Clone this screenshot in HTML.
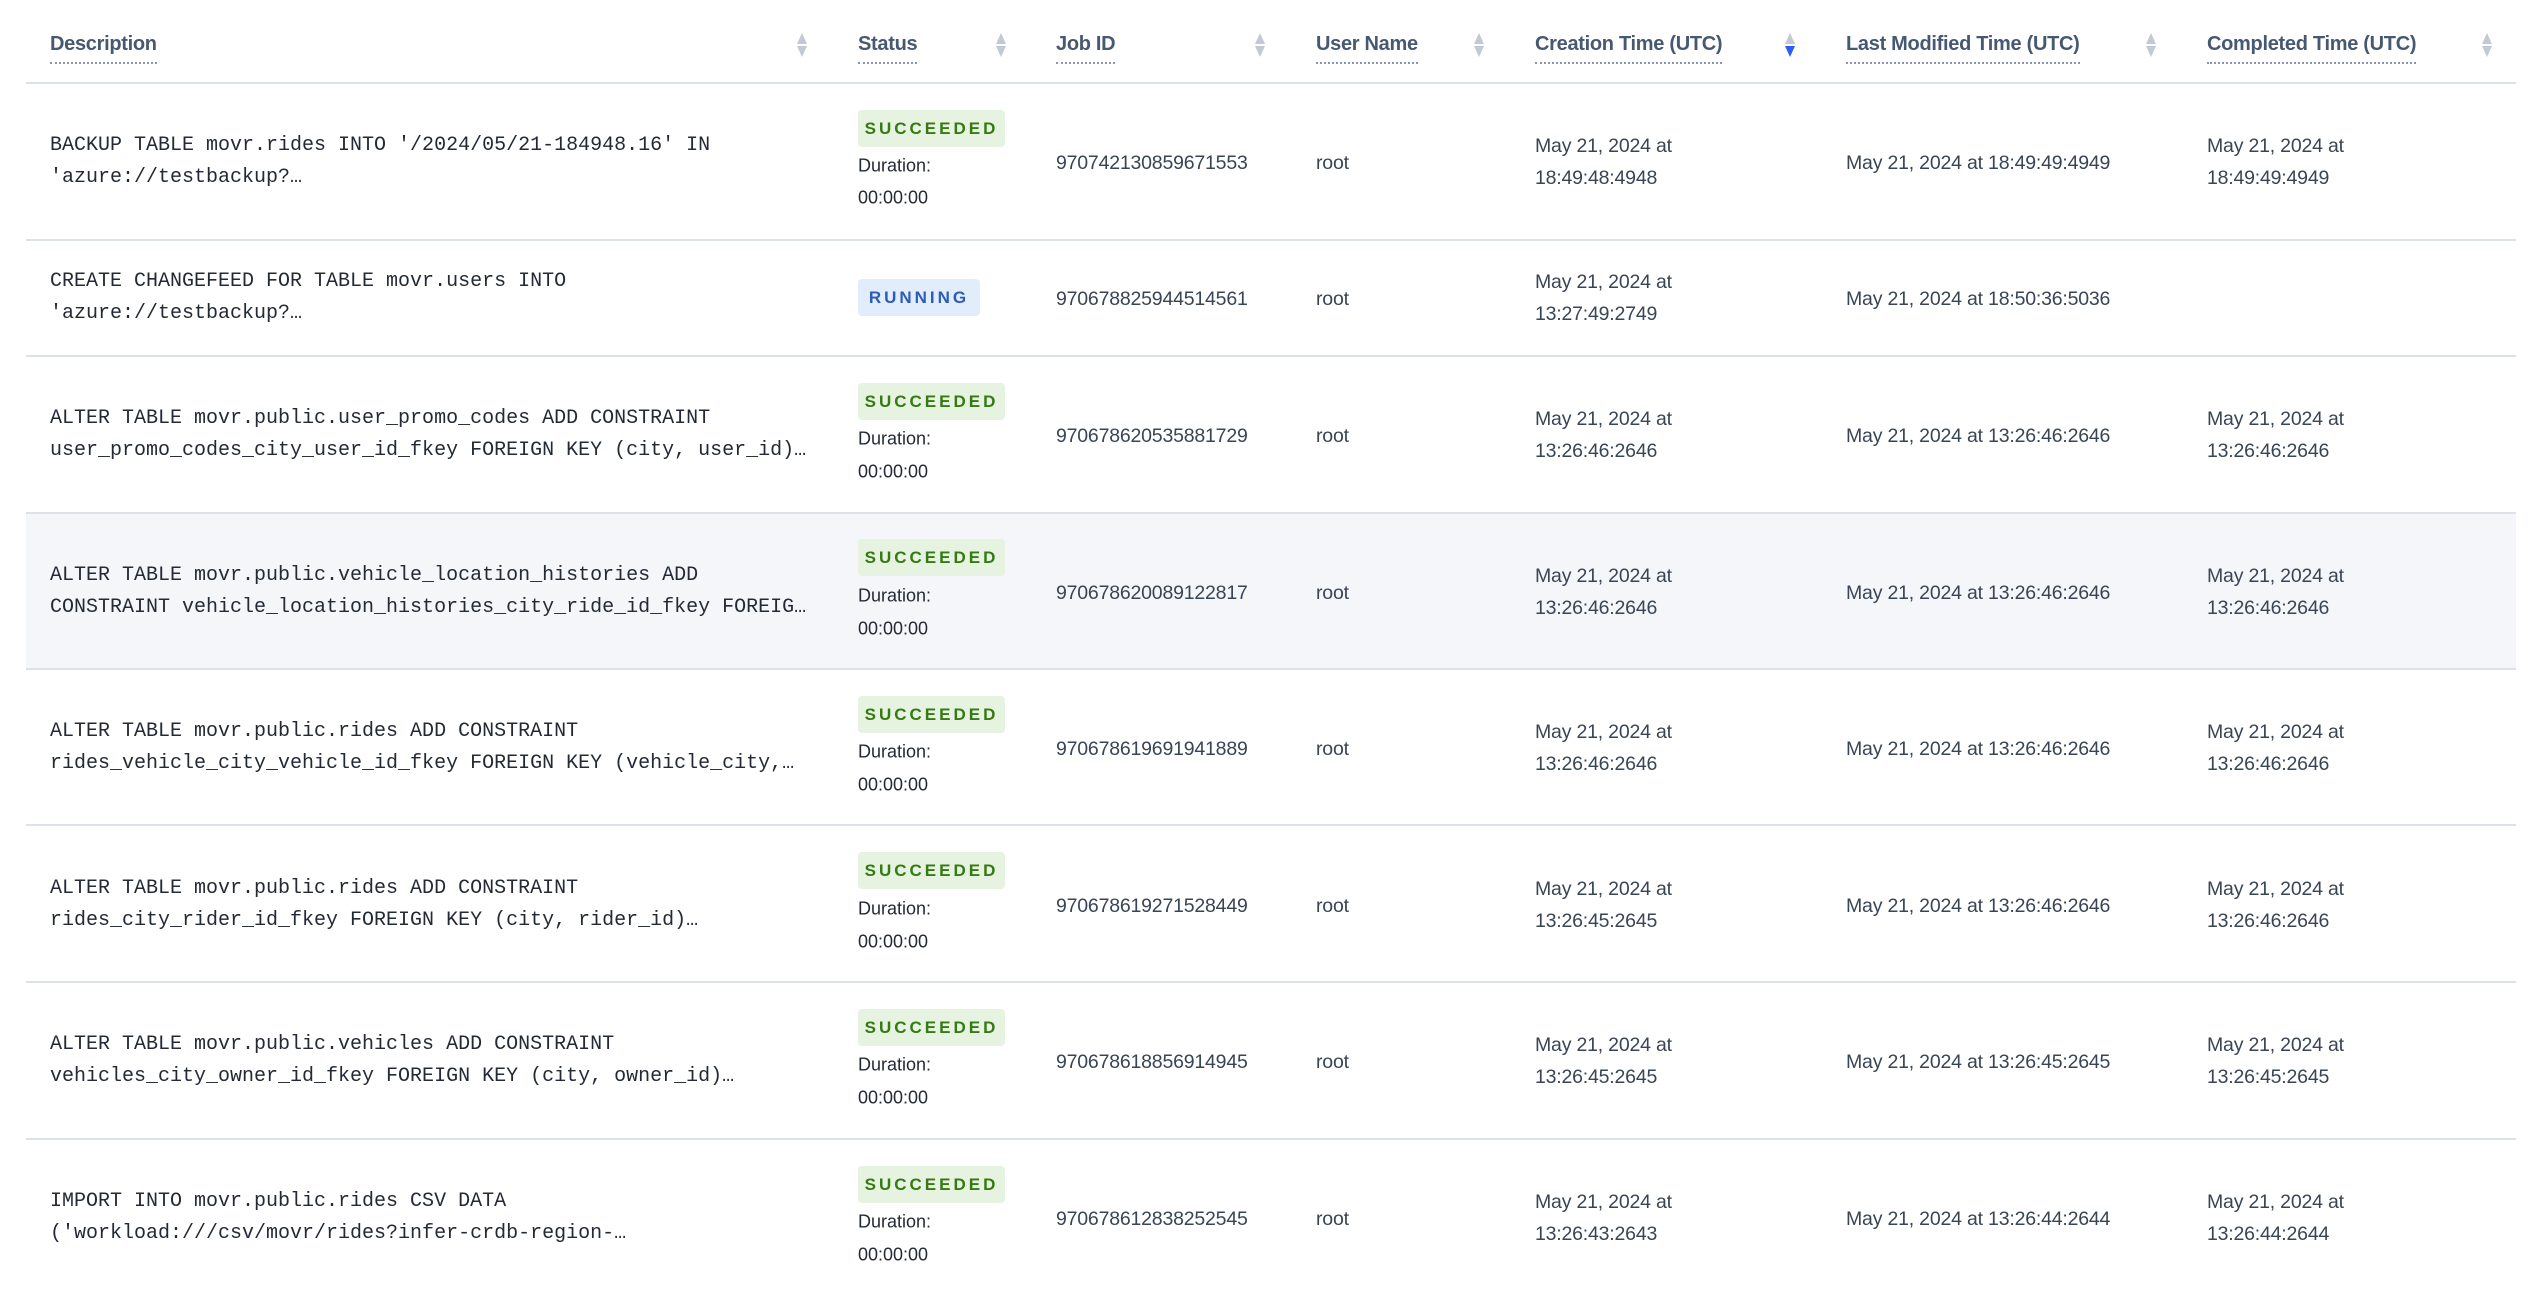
<!DOCTYPE html>
<html><head><meta charset="utf-8"><style>
html,body{margin:0;padding:0;background:#fff;}
body{width:2528px;height:1292px;position:relative;overflow:hidden;font-family:"Liberation Sans",sans-serif;color:#394455;}
.h{position:absolute;top:30px;font-size:20px;font-weight:bold;color:#475872;line-height:28px;border-bottom:2px dotted #8a96b8;padding-bottom:4px;letter-spacing:-0.3px}
.line{position:absolute;left:26px;width:2490px;height:2px;background:#dde1ea}
.row{position:absolute;left:26px;width:2490px}
.c{position:absolute;transform:translateY(-50%);font-size:19.5px;line-height:32px;white-space:nowrap;letter-spacing:-0.2px}
.m{font-family:"Liberation Mono",monospace;font-size:20px;color:#242a35;line-height:32px;letter-spacing:0}
.b{position:absolute;left:858px;height:37px;line-height:37px;border-radius:4px;font-weight:bold;font-size:17px;letter-spacing:3px;text-align:center}
.s{width:147px;background:#e6f3e1;color:#357a13}
.r{width:122px;background:#e2edfc;color:#2d5cb8}
.d{position:absolute;left:858px;font-size:18px;transform:translateY(-50%);color:#242a35;white-space:nowrap}
</style></head><body>
<div class="h" style="left:50px">Description</div>
<div class="h" style="left:858px">Status</div>
<div class="h" style="left:1056px">Job ID</div>
<div class="h" style="left:1316px">User Name</div>
<div class="h" style="left:1535px">Creation Time (UTC)</div>
<div class="h" style="left:1846px">Last Modified Time (UTC)</div>
<div class="h" style="left:2207px">Completed Time (UTC)</div>
<svg width="2528" height="90" style="position:absolute;left:0;top:0">
<g fill="#c3c8d6">
<path d="M797 44l5-11 5 11z M797 46l5 11 5-11z"/>
<path d="M996 44l5-11 5 11z M996 46l5 11 5-11z"/>
<path d="M1255 44l5-11 5 11z M1255 46l5 11 5-11z"/>
<path d="M1474 44l5-11 5 11z M1474 46l5 11 5-11z"/>
<path d="M1785 44l5-11 5 11z"/>
<path d="M2146 44l5-11 5 11z M2146 46l5 11 5-11z"/>
<path d="M2482 44l5-11 5 11z M2482 46l5 11 5-11z"/>
</g>
<path d="M1785 46l5 11 5-11z" fill="#2a5ef5"/>
</svg>
<div class="line" style="top:82px"></div>
<div class="row" style="top:513px;height:156px;background:#f5f6fa"></div>
<div class="line" style="top:239px"></div>
<div class="line" style="top:355px"></div>
<div class="line" style="top:512px"></div>
<div class="line" style="top:668px"></div>
<div class="line" style="top:824px"></div>
<div class="line" style="top:981px"></div>
<div class="line" style="top:1138px"></div>

<div class="c m" style="left:50px;top:162px">BACKUP TABLE movr.rides INTO '/2024/05/21-184948.16' IN<br>'azure://testbackup?…</div>
<div class="b s" style="top:110px">SUCCEEDED</div>
<div class="d" style="top:166px">Duration:</div><div class="d" style="top:198px">00:00:00</div>
<div class="c" style="left:1056px;top:163px">970742130859671553</div>
<div class="c" style="left:1316px;top:163px">root</div>
<div class="c" style="left:1535px;top:162px">May 21, 2024 at<br>18:49:48:4948</div>
<div class="c" style="left:1846px;top:163px">May 21, 2024 at 18:49:49:4949</div>
<div class="c" style="left:2207px;top:162px">May 21, 2024 at<br>18:49:49:4949</div>

<div class="c m" style="left:50px;top:298px">CREATE CHANGEFEED FOR TABLE movr.users INTO<br>'azure://testbackup?…</div>
<div class="b r" style="top:279px">RUNNING</div>
<div class="c" style="left:1056px;top:299px">970678825944514561</div>
<div class="c" style="left:1316px;top:299px">root</div>
<div class="c" style="left:1535px;top:298px">May 21, 2024 at<br>13:27:49:2749</div>
<div class="c" style="left:1846px;top:299px">May 21, 2024 at 18:50:36:5036</div>

<div class="c m" style="left:50px;top:435px">ALTER TABLE movr.public.user_promo_codes ADD CONSTRAINT<br>user_promo_codes_city_user_id_fkey FOREIGN KEY (city, user_id)…</div>
<div class="b s" style="top:383px">SUCCEEDED</div>
<div class="d" style="top:439px">Duration:</div><div class="d" style="top:472px">00:00:00</div>
<div class="c" style="left:1056px;top:436px">970678620535881729</div>
<div class="c" style="left:1316px;top:436px">root</div>
<div class="c" style="left:1535px;top:435px">May 21, 2024 at<br>13:26:46:2646</div>
<div class="c" style="left:1846px;top:436px">May 21, 2024 at 13:26:46:2646</div>
<div class="c" style="left:2207px;top:435px">May 21, 2024 at<br>13:26:46:2646</div>

<div class="c m" style="left:50px;top:592px">ALTER TABLE movr.public.vehicle_location_histories ADD<br>CONSTRAINT vehicle_location_histories_city_ride_id_fkey FOREIG…</div>
<div class="b s" style="top:539px">SUCCEEDED</div>
<div class="d" style="top:596px">Duration:</div><div class="d" style="top:629px">00:00:00</div>
<div class="c" style="left:1056px;top:593px">970678620089122817</div>
<div class="c" style="left:1316px;top:593px">root</div>
<div class="c" style="left:1535px;top:592px">May 21, 2024 at<br>13:26:46:2646</div>
<div class="c" style="left:1846px;top:593px">May 21, 2024 at 13:26:46:2646</div>
<div class="c" style="left:2207px;top:592px">May 21, 2024 at<br>13:26:46:2646</div>

<div class="c m" style="left:50px;top:748px">ALTER TABLE movr.public.rides ADD CONSTRAINT<br>rides_vehicle_city_vehicle_id_fkey FOREIGN KEY (vehicle_city,…</div>
<div class="b s" style="top:696px">SUCCEEDED</div>
<div class="d" style="top:752px">Duration:</div><div class="d" style="top:785px">00:00:00</div>
<div class="c" style="left:1056px;top:749px">970678619691941889</div>
<div class="c" style="left:1316px;top:749px">root</div>
<div class="c" style="left:1535px;top:748px">May 21, 2024 at<br>13:26:46:2646</div>
<div class="c" style="left:1846px;top:749px">May 21, 2024 at 13:26:46:2646</div>
<div class="c" style="left:2207px;top:748px">May 21, 2024 at<br>13:26:46:2646</div>

<div class="c m" style="left:50px;top:905px">ALTER TABLE movr.public.rides ADD CONSTRAINT<br>rides_city_rider_id_fkey FOREIGN KEY (city, rider_id)…</div>
<div class="b s" style="top:852px">SUCCEEDED</div>
<div class="d" style="top:909px">Duration:</div><div class="d" style="top:942px">00:00:00</div>
<div class="c" style="left:1056px;top:906px">970678619271528449</div>
<div class="c" style="left:1316px;top:906px">root</div>
<div class="c" style="left:1535px;top:905px">May 21, 2024 at<br>13:26:45:2645</div>
<div class="c" style="left:1846px;top:906px">May 21, 2024 at 13:26:46:2646</div>
<div class="c" style="left:2207px;top:905px">May 21, 2024 at<br>13:26:46:2646</div>

<div class="c m" style="left:50px;top:1061px">ALTER TABLE movr.public.vehicles ADD CONSTRAINT<br>vehicles_city_owner_id_fkey FOREIGN KEY (city, owner_id)…</div>
<div class="b s" style="top:1009px">SUCCEEDED</div>
<div class="d" style="top:1065px">Duration:</div><div class="d" style="top:1098px">00:00:00</div>
<div class="c" style="left:1056px;top:1062px">970678618856914945</div>
<div class="c" style="left:1316px;top:1062px">root</div>
<div class="c" style="left:1535px;top:1061px">May 21, 2024 at<br>13:26:45:2645</div>
<div class="c" style="left:1846px;top:1062px">May 21, 2024 at 13:26:45:2645</div>
<div class="c" style="left:2207px;top:1061px">May 21, 2024 at<br>13:26:45:2645</div>

<div class="c m" style="left:50px;top:1218px">IMPORT INTO movr.public.rides CSV DATA<br>('workload:///csv/movr/rides?infer-crdb-region-…</div>
<div class="b s" style="top:1166px">SUCCEEDED</div>
<div class="d" style="top:1222px">Duration:</div><div class="d" style="top:1255px">00:00:00</div>
<div class="c" style="left:1056px;top:1219px">970678612838252545</div>
<div class="c" style="left:1316px;top:1219px">root</div>
<div class="c" style="left:1535px;top:1218px">May 21, 2024 at<br>13:26:43:2643</div>
<div class="c" style="left:1846px;top:1219px">May 21, 2024 at 13:26:44:2644</div>
<div class="c" style="left:2207px;top:1218px">May 21, 2024 at<br>13:26:44:2644</div>
</body></html>
